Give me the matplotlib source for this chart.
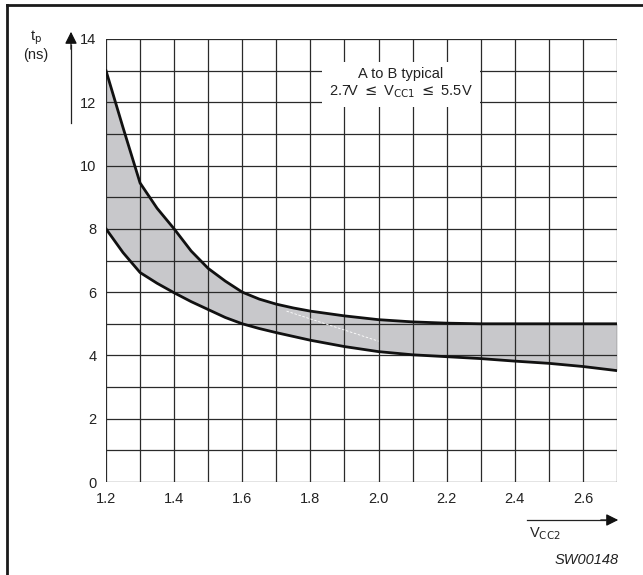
import numpy as np
import matplotlib.pyplot as plt
from matplotlib.lines import Line2D

plt.rcParams['font.family'] = ['Liberation Sans', 'DejaVu Sans']

# values
vcc2 = [1.2, 1.25, 1.3, 1.35, 1.4, 1.45, 1.5, 1.55, 1.6, 1.65, 1.7, 1.75, 1.8, 1.9,
        2.0, 2.1, 2.2, 2.3, 2.4, 2.5, 2.6, 2.7]
tp_max = [13.0, 11.2, 9.45, 8.65, 8.0, 7.3, 6.75, 6.35, 6.0, 5.78, 5.62, 5.5, 5.4, 5.25,
          5.13, 5.06, 5.02, 5.0, 5.0, 5.0, 5.0, 5.0]
tp_min = [8.0, 7.25, 6.62, 6.28, 5.98, 5.7, 5.45, 5.2, 5.0, 4.85, 4.72, 4.6, 4.48, 4.28,
          4.12, 4.02, 3.96, 3.9, 3.82, 3.75, 3.65, 3.52]
# faint white streak inside the band
streak_x = [1.73, 2.0]
streak_y = [5.4, 4.45]

xticks = [1.2, 1.4, 1.6, 1.8, 2.0, 2.2, 2.4, 2.6]
xtick_labels = ['1.2', '1.4', '1.6', '1.8', '2.0', '2.2', '2.4', '2.6']
yticks = [0, 2, 4, 6, 8, 10, 12, 14]

fig = plt.figure(figsize=(6.43, 5.75), dpi=100)
ax = fig.add_axes([106/643, 1 - 482/575, 511/643, 443/575])

gc = '#2a2a2a'
ax.fill_between(vcc2, tp_min, tp_max, color='#c8c8cb', lw=0, zorder=1)
for xv in np.arange(1.2, 2.71, 0.1):
    ax.axvline(xv, color=gc, lw=0.9, zorder=2)
for yv in range(0, 15):
    ax.axhline(yv, color=gc, lw=0.9, zorder=2)
ax.plot(streak_x, streak_y, color='white', lw=0.6, ls=(0, (3, 2)), zorder=2.5)
ax.plot(vcc2, tp_max, color='#111111', lw=2.0, zorder=3, solid_joinstyle='round')
ax.plot(vcc2, tp_min, color='#111111', lw=2.0, zorder=3, solid_joinstyle='round')

ax.set_xlim(1.2, 2.7)
ax.set_ylim(0, 14)
ax.set_xticks(xticks)
ax.set_xticklabels(xtick_labels)
ax.set_yticks(yticks)
ax.tick_params(length=0, labelsize=10.5, colors='#222222', pad=7)
for s in ax.spines.values():
    s.set_visible(False)

# text box with white background over the grid
ax.text(2.065, 12.6, 'A to B typical\n2.7V $\\leq$ V$_{\\mathrm{CC1}}$ $\\leq$ 5.5V',
        ha='center', va='center', fontsize=10.5, color='#222222', zorder=5,
        linespacing=1.15,
        bbox=dict(facecolor='white', edgecolor='none', pad=5))

# axis arrows and labels
fig.add_artist(Line2D([71/643, 71/643], [1 - 123/575, 1 - 45/575], color='#222222', lw=0.9))
ax.annotate('', xy=(71/643, 1 - 29/575), xytext=(71/643, 1 - 52/575),
            xycoords='figure fraction',
            arrowprops=dict(arrowstyle='-|>', color='#111111', lw=0.9, mutation_scale=18))
fig.text(36/643, 1 - 38/575, 't$_\\mathrm{p}$', ha='center', va='center', fontsize=10.5, color='#222222')
fig.text(36/643, 1 - 55/575, '(ns)', ha='center', va='center', fontsize=10.5, color='#222222')

fig.add_artist(Line2D([527/643, 605/643], [1 - 520/575, 1 - 520/575], color='#222222', lw=0.9))
ax.annotate('', xy=(621/643, 1 - 520/575), xytext=(598/643, 1 - 520/575),
            xycoords='figure fraction',
            arrowprops=dict(arrowstyle='-|>', color='#111111', lw=0.9, mutation_scale=18))
fig.text(529/643, 1 - 534/575, 'V$_{\\mathrm{CC2}}$', ha='left', va='center', fontsize=10.5, color='#222222')
fig.text(619/643, 1 - 560/575, 'SW00148', ha='right', va='center', fontsize=10.5,
         style='italic', color='#222222')

# frame of the scanned figure (left and top only)
fig.add_artist(Line2D([6.5/643, 6.5/643], [0, 1 - 5/575], color='#1a1a1a', lw=2))
fig.add_artist(Line2D([6.5/643, 1], [1 - 5/575, 1 - 5/575], color='#1a1a1a', lw=2))

fig.savefig('out.png', dpi=100)
